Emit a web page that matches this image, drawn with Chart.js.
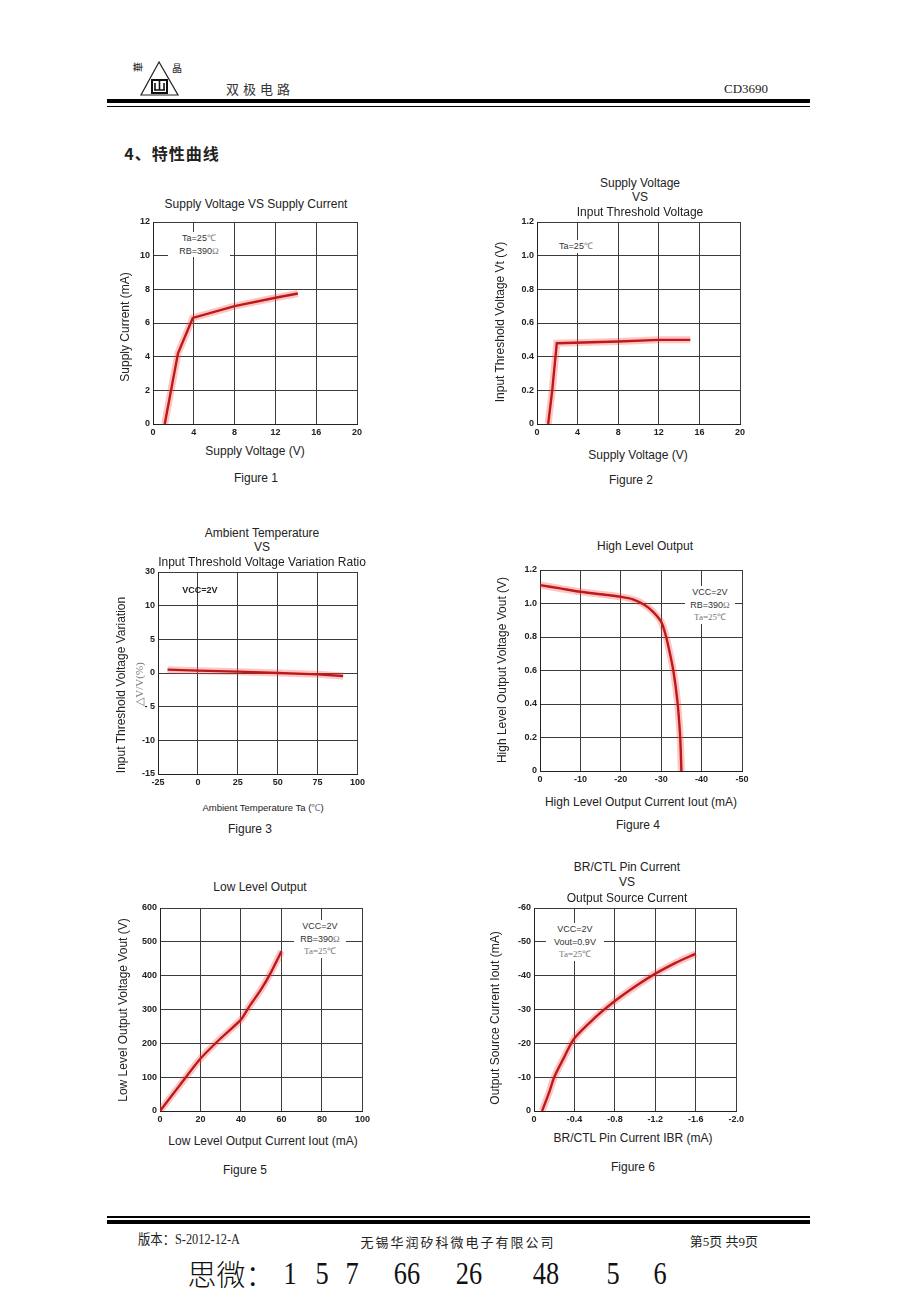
<!DOCTYPE html>
<html>
<head>
<meta charset="utf-8">
<script src="https://cdn.jsdelivr.net/npm/chart.js@4.4.1/dist/chart.umd.min.js"></script>
<style>
    body { margin: 0; background: #fff; }
    #page { position: relative; width: 920px; height: 1302px; overflow: hidden; background: #fff;
            font-family: "Liberation Sans", Arial, sans-serif; color: #222; }
    .t { position: absolute; white-space: nowrap; transform: translate(-50%, -50%); font-size: 12px; line-height: 1; }
    .rot { transform: translate(-50%, -50%) rotate(-90deg); }
    .note { position: absolute; background: #fff; text-align: center; font-size: 9px; line-height: 12.5px; color: #333; }
    .serif { font-family: "Liberation Serif", "Times New Roman", serif; color: #777; }
    .big { position: absolute; top: 1273px; transform: translate(-50%, -50%) scaleX(0.85); font-size: 31px; line-height: 1;
           font-family: "Liberation Serif", serif; color: #111; white-space: nowrap; }
    canvas { position: absolute; }
    .hr { position: absolute; left: 107px; width: 703px; background: #000; }
</style>
</head>
<body>
<div id="page">
    <!-- en-tête -->
    <svg style="position:absolute;left:130px;top:56px" width="60" height="44">
        <polygon points="29,6 11,39 48,39" fill="none" stroke="#222" stroke-width="1.2"/>
        <rect x="22" y="24" width="15" height="13" fill="none" stroke="#111" stroke-width="2"/>
        <path d="M25 34 V27 M29.5 34 V25 M34 34 V27 M24 34 H35" stroke="#111" stroke-width="1.6" fill="none"/>
    </svg>
    <div class="t" style="left:138px;top:67px;font-size:10px;font-family:'Noto Sans CJK SC';transform:translate(-50%,-50%) rotate(-90deg)">華</div>
    <div class="t" style="left:177px;top:68px;font-size:10px;font-family:'Noto Sans CJK SC'">晶</div>
    <div class="t" style="left:260px;top:88px;font-size:13px;letter-spacing:4px;font-family:'Noto Sans CJK SC';color:#333">双极电路</div>
    <div class="t" style="left:746px;top:88px;font-size:13px;font-family:'Liberation Serif',serif;color:#222">CD3690</div>
    <div class="hr" style="top:99px;height:4px"></div>
    <div class="hr" style="top:106px;height:1px"></div>
    <div class="t" style="left:172px;top:153px;font-size:16px;font-weight:bold;letter-spacing:1px;font-family:'Noto Sans CJK SC'">4、特性曲线</div>

    <canvas id="fig1"></canvas>
    <canvas id="fig2"></canvas>
    <canvas id="fig3"></canvas>
    <canvas id="fig4"></canvas>
    <canvas id="fig5"></canvas>
    <canvas id="fig6"></canvas>

    <!-- Figure 1 -->
    <div class="t" style="left:256px;top:204px">Supply Voltage VS Supply Current</div>
    <div class="t rot" style="left:125px;top:327px">Supply Current (mA)</div>
    <div class="t" style="left:255px;top:451px">Supply Voltage (V)</div>
    <div class="t" style="left:256px;top:478px">Figure 1</div>
    <div class="note" style="left:168px;top:232px;width:62px">Ta=25<span class="serif">℃</span><br>RB=390<span class="serif">Ω</span></div>

    <!-- Figure 2 -->
    <div class="t" style="left:640px;top:183px">Supply Voltage</div>
    <div class="t" style="left:640px;top:197px">VS</div>
    <div class="t" style="left:640px;top:212px">Input Threshold Voltage</div>
    <div class="t rot" style="left:500px;top:322px">Input Threshold Voltage Vt (V)</div>
    <div class="t" style="left:638px;top:455px">Supply Voltage (V)</div>
    <div class="t" style="left:631px;top:480px">Figure 2</div>
    <div class="note" style="left:550px;top:240px;width:52px">Ta=25<span class="serif">℃</span></div>

    <!-- Figure 3 -->
    <div class="t" style="left:262px;top:533px">Ambient Temperature</div>
    <div class="t" style="left:262px;top:547px">VS</div>
    <div class="t" style="left:262px;top:562px">Input Threshold Voltage Variation Ratio</div>
    <div class="t rot" style="left:121px;top:685px">Input Threshold Voltage Variation</div>
    <div class="t rot serif" style="left:139px;top:684px;font-size:11px">△V/V(%)</div>
    <div class="t" style="left:263px;top:808px;font-size:9.5px">Ambient Temperature Ta (<span class="serif">℃</span>)</div>
    <div class="t" style="left:250px;top:829px">Figure 3</div>
    <div class="t" style="left:200px;top:590px;font-size:9px;font-weight:bold">VCC=2V</div>

    <!-- Figure 4 -->
    <div class="t" style="left:645px;top:546px">High Level Output</div>
    <div class="t rot" style="left:502px;top:670px">High Level Output Voltage Vout (V)</div>
    <div class="t" style="left:641px;top:802px">High Level Output Current Iout (mA)</div>
    <div class="t" style="left:638px;top:825px">Figure 4</div>
    <div class="note" style="left:685px;top:586px;width:50px">VCC=2V<br>RB=390<span class="serif">Ω</span><br><span class="serif">Ta=25℃</span></div>

    <!-- Figure 5 -->
    <div class="t" style="left:260px;top:887px">Low Level Output</div>
    <div class="t rot" style="left:123px;top:1010px">Low Level Output Voltage Vout (V)</div>
    <div class="t" style="left:263px;top:1141px">Low Level Output Current Iout (mA)</div>
    <div class="t" style="left:245px;top:1170px">Figure 5</div>
    <div class="note" style="left:294px;top:920px;width:52px">VCC=2V<br>RB=390<span class="serif">Ω</span><br><span class="serif">Ta=25℃</span></div>

    <!-- Figure 6 -->
    <div class="t" style="left:627px;top:867px">BR/CTL Pin Current</div>
    <div class="t" style="left:627px;top:882px">VS</div>
    <div class="t" style="left:627px;top:898px">Output Source Current</div>
    <div class="t rot" style="left:495px;top:1018px">Output Source Current Iout (mA)</div>
    <div class="t" style="left:633px;top:1138px">BR/CTL Pin Current IBR (mA)</div>
    <div class="t" style="left:633px;top:1167px">Figure 6</div>
    <div class="note" style="left:546px;top:923px;width:58px">VCC=2V<br>Vout=0.9V<br><span class="serif">Ta=25℃</span></div>

    <!-- pied de page -->
    <div class="hr" style="top:1216px;height:2px"></div>
    <div class="hr" style="top:1220px;height:4px"></div>
    <div class="t" style="left:189px;top:1240px;font-size:14px;font-family:'Liberation Serif','Noto Sans CJK SC',serif;transform:translate(-50%,-50%) scaleX(0.88)">版本：S-2012-12-A</div>
    <div class="t" style="left:458px;top:1241px;font-size:13px;letter-spacing:2px;font-family:'Noto Sans CJK SC'">无锡华润矽科微电子有限公司</div>
    <div class="t" style="left:724px;top:1241px;font-size:13px;font-family:'Liberation Serif','Noto Sans CJK SC',serif">第5页 共9页</div>
    <div class="big" style="left:231px;font-family:'Noto Sans CJK SC';font-size:29px;font-weight:300;transform:translate(-50%,-50%)">思微：</div>
    <div class="big" style="left:290px">1</div>
    <div class="big" style="left:322px">5</div>
    <div class="big" style="left:352px">7</div>
    <div class="big" style="left:407px">66</div>
    <div class="big" style="left:469px">26</div>
    <div class="big" style="left:546px">48</div>
    <div class="big" style="left:613px">5</div>
    <div class="big" style="left:660px">6</div>
</div>

<script>
// Données
const fig1X = [1.15, 1.8, 2.45, 3.9, 8, 12, 14.2];
const fig1Y = [0, 2.1, 4.2, 6.3, 7.0, 7.5, 7.75];

const fig2X = [1.1, 1.5, 1.95, 8, 12, 15.1];
const fig2Y = [0, 0.2, 0.48, 0.49, 0.5, 0.5];

const fig3X = [-19, 0, 25, 50, 75, 91];
const fig3Y = [0.5, 0.35, 0.2, 0.0, -0.2, -0.45];

const fig4X = [0, -5, -10, -15, -20, -23, -26, -28, -30, -31, -32, -33, -34, -34.7, -35];
const fig4Y = [1.11, 1.09, 1.07, 1.055, 1.04, 1.025, 0.99, 0.95, 0.89, 0.82, 0.72, 0.6, 0.42, 0.2, 0];

const fig5X = [0, 10, 20, 30, 40, 44, 50, 55, 60];
const fig5Y = [0, 78, 155, 215, 270, 308, 360, 412, 472];

const fig6X = [-0.08, -0.15, -0.2, -0.3, -0.4, -0.6, -0.8, -1.0, -1.2, -1.4, -1.6];
const fig6Y = [0, -5.5, -10, -16, -21.5, -27.5, -32.5, -36.8, -40.6, -43.8, -46.5];

// Graduations
const fig3YLabels = { '15': '30', '-5': '- 5' };
const oneDecimal = v => (v === 0 ? '0' : v.toFixed(1));

const tickFont = { family: '"Liberation Sans", Arial, sans-serif', size: 9, weight: 'bold' };

/**
 * Construit un graphique dont la zone de tracé tombe exactement sur box
 */
function makeChart(id, box, xs, ys, xScale, yScale, tension) {
    const cv = document.getElementById(id);
    const padL = 40, padT = 10, padR = 10, padB = 16;
    cv.width = box.w + padL + padR;
    cv.height = box.h + padT + padB;
    cv.style.left = (box.x - padL) + 'px';
    cv.style.top = (box.y - padT) + 'px';

    const pts = xs.map((x, i) => ({ x: x, y: ys[i] }));
    const axis = (extra, fit) => Object.assign({
        type: 'linear',
        afterFit: fit,
        grid: { color: '#3c3c3c', lineWidth: 1, drawTicks: false },
        border: { color: '#222', width: 1 }
    }, extra, { ticks: Object.assign({ font: tickFont, color: '#222', autoSkip: false, maxRotation: 0, padding: 3 }, extra.ticks || {}) });

    new Chart(cv, {
        type: 'line',
        data: {
            datasets: [
                { data: pts, borderColor: 'rgba(255,60,60,0.3)', borderWidth: 7, pointRadius: 0, tension: tension },
                { data: pts, borderColor: '#a00c0c', borderWidth: 2.4, pointRadius: 0, tension: tension }
            ]
        },
        options: {
            responsive: false,
            animation: false,
            devicePixelRatio: 1,
            layout: { padding: { top: padT, right: padR, left: 0, bottom: 0 } },
            plugins: { legend: { display: false }, tooltip: { enabled: false } },
            scales: {
                x: axis(xScale, s => { s.height = padB; }),
                y: axis(yScale, s => { s.width = padL; })
            }
        }
    });
}

makeChart('fig1', { x: 153, y: 222, w: 204, h: 202 }, fig1X, fig1Y,
    { min: 0, max: 20, ticks: { stepSize: 4 } },
    { min: 0, max: 12, ticks: { stepSize: 2 } }, 0);

makeChart('fig2', { x: 537, y: 222, w: 203, h: 202 }, fig2X, fig2Y,
    { min: 0, max: 20, ticks: { stepSize: 4 } },
    { min: 0, max: 1.2, ticks: { stepSize: 0.2, callback: oneDecimal } }, 0);

makeChart('fig3', { x: 158, y: 572, w: 200, h: 202 }, fig3X, fig3Y,
    { min: -25, max: 100, ticks: { stepSize: 25 } },
    { min: -15, max: 15, ticks: { stepSize: 5, callback: v => fig3YLabels[String(v)] || String(v) } }, 0);

makeChart('fig4', { x: 540, y: 570, w: 202, h: 201 }, fig4X, fig4Y,
    { min: -50, max: 0, reverse: true, ticks: { stepSize: 10 } },
    { min: 0, max: 1.2, ticks: { stepSize: 0.2, callback: oneDecimal } }, 0.3);

makeChart('fig5', { x: 160, y: 908, w: 203, h: 203 }, fig5X, fig5Y,
    { min: 0, max: 100, ticks: { stepSize: 20 } },
    { min: 0, max: 600, ticks: { stepSize: 100 } }, 0.2);

makeChart('fig6', { x: 534, y: 908, w: 203, h: 203 }, fig6X, fig6Y,
    { min: -2, max: 0, reverse: true, ticks: { stepSize: 0.4, callback: oneDecimal } },
    { min: -60, max: 0, reverse: true, ticks: { stepSize: 10 } }, 0.3);
</script>
</body>
</html>
